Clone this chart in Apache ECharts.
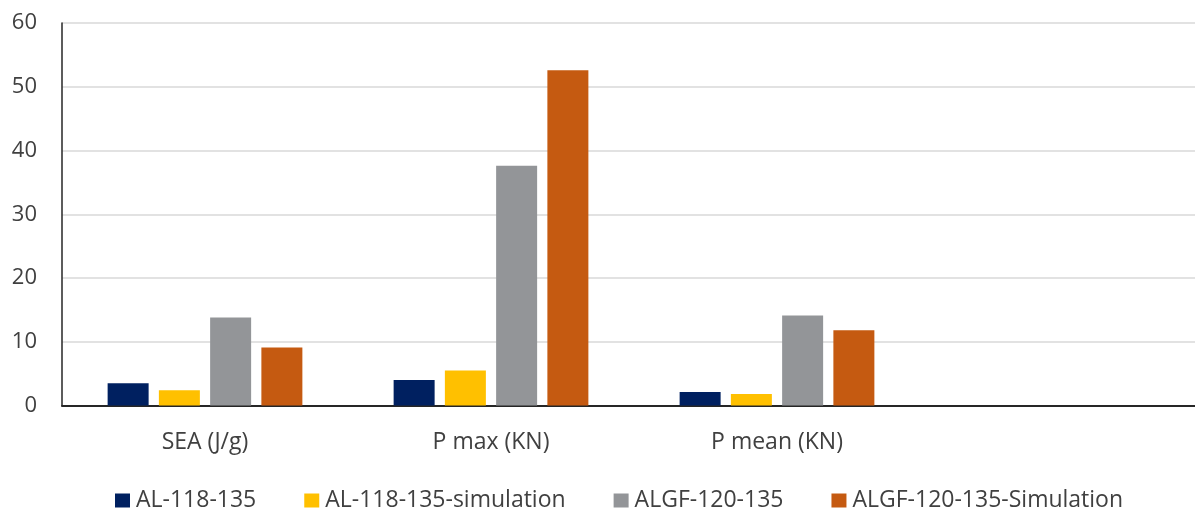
<!DOCTYPE html>
<html>
<head>
<meta charset="utf-8">
<script src="https://cdn.jsdelivr.net/npm/echarts@6/dist/echarts.min.js"></script>
<style>
html,body{margin:0;padding:0;background:#fff;}
#chart{width:1195px;height:509px;}
</style>
</head>
<body>
<div id="chart"></div>
<script>
const categories = ['SEA (J/g)', 'P max (KN)', 'P mean (KN)', ''];
const seriesNames = ['AL-118-135', 'AL-118-135-simulation', 'ALGF-120-135', 'ALGF-120-135-Simulation'];
const al118 = [3.5, 4.0, 2.1, null];
const al118Sim = [2.4, 5.5, 1.8, null];
const algf120 = [13.8, 37.6, 14.1, null];
const algf120Sim = [9.1, 52.6, 11.8, null];
const yTicks = [0, 10, 20, 30, 40, 50, 60];

const colors = ['#002060', '#FFC000', '#939598', '#C55A11'];
const seriesData = [al118, al118Sim, algf120, algf120Sim];
const font = 'Open Sans';

const chart = echarts.init(document.getElementById('chart'), null, {renderer: 'canvas'});
chart.setOption({
  animation: false,
  backgroundColor: '#ffffff',
  textStyle: {fontFamily: font},
  grid: {left: 62, width: 1144, top: 23, height: 382.5, containLabel: false, outerBoundsMode: 'none'},
  legend: {
    left: 115,
    top: 489,
    padding: 0,
    itemWidth: 15,
    itemHeight: 14,
    itemGap: 48,
    icon: 'rect',
    textStyle: {fontFamily: font, fontSize: 23, color: '#404040', padding: [0, 0, 0, 1]},
    data: seriesNames
  },
  xAxis: {
    type: 'category',
    data: categories,
    axisLine: {lineStyle: {color: '#262626', width: 2}},
    axisTick: {show: false},
    axisLabel: {fontFamily: font, fontSize: 23, color: '#404040', margin: 25},
    splitLine: {show: false}
  },
  yAxis: {
    type: 'value',
    min: yTicks[0],
    max: yTicks[yTicks.length - 1],
    interval: 10,
    axisLine: {show: true, lineStyle: {color: '#262626', width: 1.5}},
    axisTick: {show: false},
    axisLabel: {fontFamily: font, fontSize: 22, color: '#404040', margin: 25},
    splitLine: {lineStyle: {color: '#d9d9d9', width: 1.5}}
  },
  series: seriesNames.map((name, i) => ({
    name: name,
    type: 'bar',
    data: seriesData[i],
    barWidth: 41,
    barGap: '25%',
    itemStyle: {color: colors[i]}
  }))
});
</script>
</body>
</html>
